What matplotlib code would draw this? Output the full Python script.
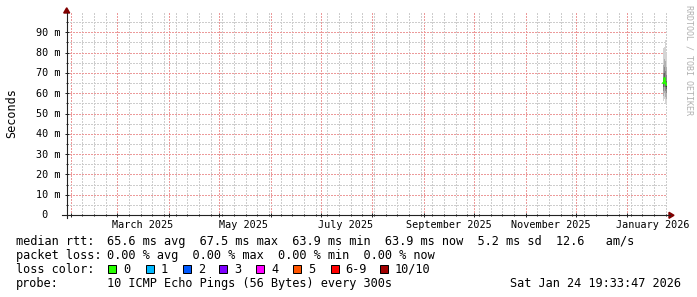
import datetime as dt
import matplotlib
matplotlib.use('Agg')
import matplotlib.pyplot as plt
import matplotlib.dates as mdates
from matplotlib.ticker import FixedLocator
from matplotlib.patches import Rectangle, Polygon
from matplotlib.lines import Line2D
from matplotlib import transforms

plt.rcParams['lines.scale_dashes'] = False

W, H = 697, 297

# --- data ---
end_time = dt.datetime(2026, 1, 24, 19, 33, 47)
start_time = end_time - dt.timedelta(days=360)

col_hours_before_end = [60, 48, 36, 24, 12]   # 12h columns at the right edge
col_pings_ms = [
    [56.0, 58.5, 61.0, 63.0, 64.3, 65.7, 67.5, 70.0, 74.0, 82.5],
    [57.0, 60.0, 63.0, 65.5, 67.0, 68.0, 70.0, 73.0, 77.0, 83.0],
    [55.5, 59.0, 62.0, 64.5, 66.2, 67.4, 69.5, 73.0, 79.0, 87.0],
    [55.0, 58.0, 61.0, 63.0, 64.4, 65.6, 67.5, 71.0, 76.0, 86.0],
    [54.5, 57.0, 60.0, 62.0, 63.2, 64.6, 66.0, 69.0, 73.0, 80.0],
]
median_ms = [65.0, 67.5, 66.8, 65.0, 63.9]

y_ticks_ms = [0, 10, 20, 30, 40, 50, 60, 70, 80, 90]
y_tick_labels = [' 0', '10 m', '20 m', '30 m', '40 m', '50 m', '60 m', '70 m', '80 m', '90 m']
x_label_months = [(2025, 3), (2025, 5), (2025, 7), (2025, 9), (2025, 11), (2026, 1)]
x_labels = ['March 2025', 'May 2025', 'July 2025', 'September 2025', 'November 2025', 'January 2026']

rtt_stats = [('avg', 65.6), ('max', 67.5), ('min', 63.9), ('now', 63.9)]
rtt_sd = 5.2
rtt_am_s = 12.6
loss_stats = [('avg', 0.0), ('max', 0.0), ('min', 0.0), ('now', 0.0)]
loss_labels = ['0', '1', '2', '3', '4', '5', '6-9', '10/10']
loss_colors = ['#26ff00', '#00b8ff', '#0059ff', '#7e00ff', '#ff00ff', '#ff5500', '#ff0000', '#a10000']
probe_text = '10 ICMP Echo Pings (56 Bytes) every 300s'
stamp_text = 'Sat Jan 24 19:33:47 2026'

smoke_shades = ['#d4d4d4', '#b0b0b0', '#8a8a8a', '#626262', '#3a3a3a',
                '#626262', '#8a8a8a', '#b0b0b0', '#d4d4d4']


def fx(x):
    return x / W


def fy(y):
    return 1 - y / H


MONO = 'DejaVu Sans Mono'
fig = plt.figure(figsize=(W / 100, H / 100), dpi=100, facecolor='white')

left, right, top, bottom = 67, 667, 12, 215
ax = fig.add_axes([fx(left), fy(bottom), (right - left) / W, (bottom - top) / H])
ax.set_facecolor('white')
ax.set_xlim(mdates.date2num(start_time), mdates.date2num(end_time))
ax.set_ylim(0, 0.1)
for s in ax.spines.values():
    s.set_visible(False)

# grid: months major, weeks minor, 10 ms major, 5 ms minor
ax.xaxis.set_major_locator(mdates.MonthLocator())
weeks = []
d = dt.datetime(2025, 3, 1)
while d > start_time:
    d -= dt.timedelta(days=7)
d += dt.timedelta(days=7)
while d < end_time:
    weeks.append(mdates.date2num(d))
    d += dt.timedelta(days=7)
ax.xaxis.set_minor_locator(FixedLocator(weeks))
ax.yaxis.set_major_locator(FixedLocator([v / 1000 for v in y_ticks_ms[1:]]))
ax.yaxis.set_minor_locator(FixedLocator([v / 1000 + 0.005 for v in y_ticks_ms]))
ax.set_axisbelow(True)
dot = (0, (1.44, 1.44))
ax.grid(which='major', color='#ec9a9a', linestyle=dot, linewidth=0.72, antialiased=False)
ax.grid(which='minor', color='#cdcdcd', linestyle=dot, linewidth=0.72, antialiased=False)
ax.tick_params(axis='both', which='major', direction='inout', length=3.4, width=0.72,
               color='#222222', labelleft=False, labelbottom=False)
ax.tick_params(axis='both', which='minor', direction='inout', length=2.0, width=0.72,
               color='#222222', labelleft=False, labelbottom=False)

# smoke
for hours, pings in zip(col_hours_before_end, col_pings_ms):
    t0 = mdates.date2num(end_time - dt.timedelta(hours=hours))
    p = sorted(pings)
    for k in range(len(p) - 1):
        ax.bar(t0, (p[k + 1] - p[k]) / 1000, bottom=p[k] / 1000, width=0.5, align='edge',
               color=smoke_shades[k], linewidth=0, zorder=2)

xs = [mdates.date2num(end_time - dt.timedelta(hours=h)) for h in col_hours_before_end]
xs.append(mdates.date2num(end_time))
ys = [m / 1000 for m in median_ms] + [median_ms[-1] / 1000]
ax.step(xs, ys, where='post', color=loss_colors[0], linewidth=1.2, zorder=3)

# axis lines and arrows
axc = '#222222'
fig.add_artist(Line2D([fx(66.7), fx(66.7)], [fy(218), fy(12.5)], color=axc, lw=0.8))
fig.add_artist(Line2D([fx(62), fx(669.5)], [fy(215.3), fy(215.3)], color=axc, lw=0.8))
fig.add_artist(Polygon([(fx(63.7), fy(13)), (fx(69.7), fy(13)), (fx(66.7), fy(7.8))],
                       closed=True, color='#800000', transform=fig.transFigure))
fig.add_artist(Polygon([(fx(669), fy(212.3)), (fx(669), fy(218.3)), (fx(674), fy(215.3))],
                       closed=True, color='#800000', transform=fig.transFigure))

# y labels
ytr = ax.get_yaxis_transform() + transforms.ScaledTranslation(0, -3.4 / 100, fig.dpi_scale_trans)
for v, lab in zip(y_ticks_ms, y_tick_labels):
    ax.text(-(left - 35.6) / (right - left), v / 1000, lab, transform=ytr,
            ha='left', va='baseline', family=MONO, fontsize=7.3, color='black')

# x labels, centred mid-month
for (yy, mm), lab in zip(x_label_months, x_labels):
    t = mdates.date2num(dt.datetime(yy, mm, 1) + dt.timedelta(days=15))
    fig.text(fx(left + (t - mdates.date2num(start_time)) * 600 / 360), fy(228.5), lab,
             ha='center', va='baseline', family=MONO, fontsize=7.3, color='black')

fig.text(fx(12), fy(113.5), 'Seconds', rotation=90, ha='center', va='center',
         family=MONO, fontsize=8.5, color='black')
fig.text(fx(688.5), fy(5), 'RRDTOOL / TOBI OETIKER', rotation=270, ha='center', va='top',
         family=MONO, fontsize=6, color='#b0b0b0')

# legend
lf = dict(family=MONO, fontsize=8.55, color='black', va='baseline')
rtt_line = '  '.join(f'{v:.1f} ms {n}' for n, v in rtt_stats)
rtt_line += f'  {rtt_sd:.1f} ms sd  {rtt_am_s:.1f}   am/s'
loss_line = '  '.join(f'{v:.2f} % {n}' for n, v in loss_stats)

fig.text(fx(16), fy(244.7), 'median rtt:', **lf)
fig.text(fx(107.3), fy(244.7), rtt_line, **lf)
fig.text(fx(16), fy(258.7), 'packet loss:', **lf)
fig.text(fx(107.3), fy(258.7), loss_line, **lf)
fig.text(fx(16), fy(272.7), 'loss color:', **lf)
box_x = [108.3, 146, 182.7, 219.3, 256, 293.3, 330.7, 380]
for bx, lab, col in zip(box_x, loss_labels, loss_colors):
    fig.add_artist(Rectangle((fx(bx), fy(272.5)), 8 / W, 8 / H, transform=fig.transFigure,
                             facecolor=col, edgecolor='black', linewidth=0.72))
    fig.text(fx(bx + 15), fy(272.7), lab, **lf)
fig.text(fx(16), fy(286.7), 'probe:', **lf)
fig.text(fx(107.3), fy(286.7), probe_text, **lf)
fig.text(fx(681), fy(286.7), stamp_text, ha='right', family=MONO, fontsize=8.55,
         color='black', va='baseline')

fig.savefig('out.png', dpi=100, facecolor='white')
